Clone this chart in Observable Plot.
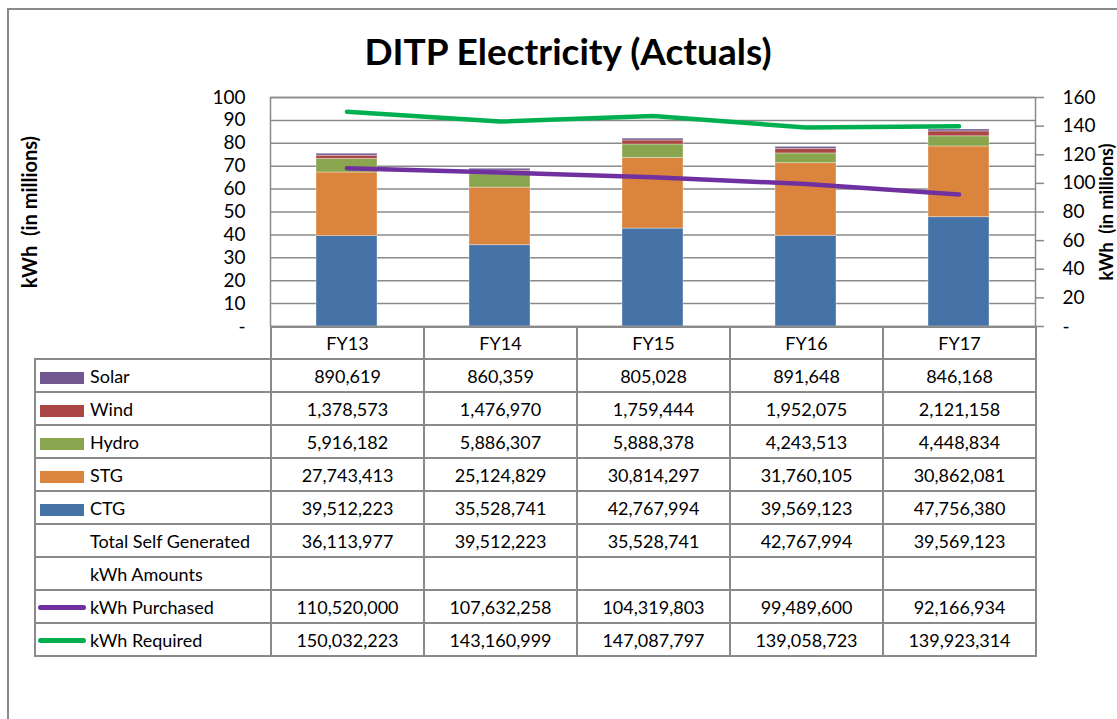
<!DOCTYPE html>
<html>
<head>
<meta charset="utf-8">
<script src="https://cdn.jsdelivr.net/npm/d3@7"></script>
<script src="https://cdn.jsdelivr.net/npm/@observablehq/plot@0.6"></script>
<style>
  html, body { margin: 0; padding: 0; background: #fff; }
  #wrap { position: relative; width: 1117px; height: 719px; overflow: hidden; font-family: Lato, sans-serif; color: #000; }
  #frame { position: absolute; left: 7px; top: 8px; width: 1200px; height: 800px; border: 2px solid #8a8a8a; box-sizing: border-box; }
  #title { position: absolute; left: 0; top: 32px; width: 1136px; text-align: center; font-weight: bold; font-size: 37px; line-height: 37px; }
  #chart { position: absolute; left: 0; top: 0; }
  table { position: absolute; left: 34px; top: 326px; border-collapse: collapse; table-layout: fixed; font-size: 18px; }
  td { border: 2px solid #8a8a8a; height: 31px; padding: 0; text-align: center; vertical-align: middle; white-space: nowrap; }
  tr.head td { height: 30px; }
  td.lab { text-align: left; padding-left: 4px; }
  td.blank { border-top: none; border-left: none; }
  .sw { display: inline-block; width: 44px; height: 12px; margin-right: 6px; vertical-align: -1px; }
  .ln { display: inline-block; width: 48px; height: 5px; border-radius: 3px; margin-right: 4px; margin-left: -2px; vertical-align: 4px; }
  .nosw { display: inline-block; width: 50px; }
</style>
</head>
<body>
<div id="wrap">
  <div id="frame"></div>
  <div id="title">DITP Electricity (Actuals)</div>
  <div id="chart"></div>
  <table id="tbl"></table>
</div>
<script>
const years = ["FY13", "FY14", "FY15", "FY16", "FY17"];
const solar = [890619, 860359, 805028, 891648, 846168];
const wind = [1378573, 1476970, 1759444, 1952075, 2121158];
const hydro = [5916182, 5886307, 5888378, 4243513, 4448834];
const stg = [27743413, 25124829, 30814297, 31760105, 30862081];
const ctg = [39512223, 35528741, 42767994, 39569123, 47756380];
const totalSelf = [36113977, 39512223, 35528741, 42767994, 39569123];
const purchased = [110520000, 107632258, 104319803, 99489600, 92166934];
const required = [150032223, 143160999, 147087797, 139058723, 139923314];
const leftTicks = [0, 10, 20, 30, 40, 50, 60, 70, 80, 90, 100];
const rightTicks = [0, 20, 40, 60, 80, 100, 120, 140, 160];

const seriesNames = ["CTG", "STG", "Hydro", "Wind", "Solar"];
const seriesValues = [ctg, stg, hydro, wind, solar];
const seriesColors = ["#4572A7", "#DB843D", "#89A54E", "#AA4643", "#71588F"];
const purpleLine = "#7030A0";
const greenLine = "#00B050";

const ratio = 160 / 100; // right axis / left axis

const stackData = [];
years.forEach((yr, i) => {
  seriesNames.forEach((s, j) => stackData.push({year: yr, series: s, value: seriesValues[j][i] / 1e6}));
});
const purchasedData = years.map((yr, i) => ({year: yr, value: purchased[i] / 1e6}));
const requiredData = years.map((yr, i) => ({year: yr, value: required[i] / 1e6}));

const chart = Plot.plot({
  width: 1117,
  height: 340,
  marginTop: 97,
  marginBottom: 14,
  marginLeft: 270,
  marginRight: 82,
  style: {fontFamily: "Lato, sans-serif", fontSize: "19px", background: "transparent", color: "#000", overflow: "visible"},
  x: {domain: years, paddingInner: 0.6, paddingOuter: 0.3, axis: null},
  y: {domain: [0, 100], axis: null},
  color: {domain: seriesNames, range: seriesColors},
  marks: [
    Plot.gridY({ticks: leftTicks, stroke: "#8a8a8a", strokeOpacity: 1, strokeWidth: 1.5}),
    Plot.barY(stackData, {x: "year", y: "value", fill: "series", stroke: "#fff", strokeOpacity: 0.35, strokeWidth: 1}),
    Plot.frame({stroke: "#8a8a8a", strokeWidth: 1.5}),
    Plot.axisY({ticks: leftTicks, tickSize: 0, tickPadding: 25, label: null, tickFormat: d => d === 0 ? "-" : d, fontSize: 19}),
    Plot.axisY({anchor: "right", ticks: rightTicks.map(v => v / ratio), tickSize: 8, tickPadding: 19, label: null, stroke: "#8a8a8a", strokeWidth: 1.5, fill: "#000",
      tickFormat: d => { const v = Math.round(d * ratio); return v === 0 ? "-" : v; }, fontSize: 19}),
    Plot.line(purchasedData, {x: "year", y: d => d.value / ratio, stroke: purpleLine, strokeWidth: 4.5, strokeLinecap: "round", strokeLinejoin: "round"}),
    Plot.line(requiredData, {x: "year", y: d => d.value / ratio, stroke: greenLine, strokeWidth: 4.5, strokeLinecap: "round", strokeLinejoin: "round"}),
    Plot.text(["kWh  (in millions)"], {frameAnchor: "left", textAnchor: "middle", dx: -240, rotate: -90, fontWeight: "bold", fontSize: 20, fill: "#000"}),
    Plot.text(["kWh  (in millions)"], {frameAnchor: "right", textAnchor: "middle", dx: 72, rotate: -90, fontWeight: "bold", fontSize: 18, fill: "#000"})
  ]
});
document.getElementById("chart").appendChild(chart);

// data table
const fmt = d3.format(",");
const tbl = document.getElementById("tbl");
const colgroup = document.createElement("colgroup");
[236, 153, 153, 153, 153, 153].forEach(w => { const c = document.createElement("col"); c.style.width = w + "px"; colgroup.appendChild(c); });
tbl.appendChild(colgroup);

function addRow(labelHTML, values, cls, rowCls) {
  const tr = document.createElement("tr");
  if (rowCls) tr.className = rowCls;
  const th = document.createElement("td");
  th.className = cls || "lab";
  th.innerHTML = labelHTML;
  tr.appendChild(th);
  values.forEach(v => { const td = document.createElement("td"); td.textContent = v; tr.appendChild(td); });
  tbl.appendChild(tr);
}
addRow("", years, "blank", "head");
const rowsTop = [["Solar", solar], ["Wind", wind], ["Hydro", hydro], ["STG", stg], ["CTG", ctg]];
rowsTop.forEach(([name, vals]) => {
  const col = seriesColors[seriesNames.indexOf(name)];
  addRow(`<span class="sw" style="background:${col}"></span>${name}`, vals.map(fmt));
});
addRow(`<span class="nosw"></span>Total Self Generated`, totalSelf.map(fmt));
addRow(`<span class="nosw"></span>kWh Amounts`, years.map(() => ""));
addRow(`<span class="ln" style="background:${purpleLine}"></span>kWh Purchased`, purchased.map(fmt));
addRow(`<span class="ln" style="background:${greenLine}"></span>kWh Required`, required.map(fmt));
</script>
</body>
</html>
